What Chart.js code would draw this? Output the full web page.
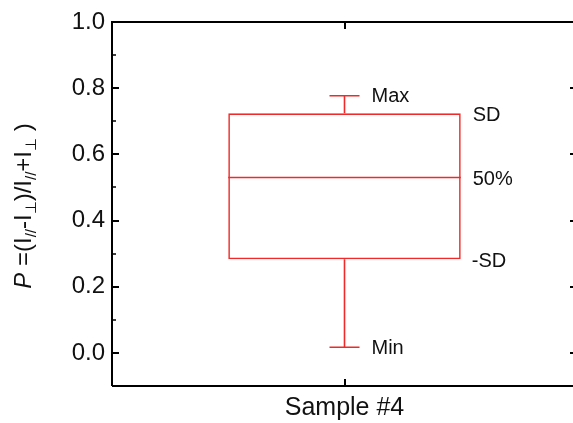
<!DOCTYPE html>
<html>
<head>
<meta charset="utf-8">
<script src="https://cdn.jsdelivr.net/npm/chart.js@4.4.1/dist/chart.umd.min.js"></script>
<style>
  html, body { margin: 0; padding: 0; background: #fff; overflow: hidden; }
  #wrap { width: 573px; height: 423px; overflow: hidden; }
  #box { width: 580px; height: 423px; }
</style>
</head>
<body>
<div id="wrap"><div id="box"><canvas id="c"></canvas></div></div>
<script>
// data
const categories = ["Sample #4"];
const sdLow = [0.283];
const sdHigh = [0.724];
const median = [0.53];
const minVals = [0.017];
const maxVals = [0.777];
const yMin = -0.1, yMax = 1.0, yStep = 0.1;
const yLabelTicks = [0.0, 0.2, 0.4, 0.6, 0.8, 1.0];

const RED = "#ee2a2a";
const FONT = "'Liberation Sans', Arial, sans-serif";

// box outline, whiskers, median and side labels
const boxPlugin = {
  id: "boxExtras",
  afterDatasetsDraw(chart) {
    const ctx = chart.ctx;
    const y = chart.scales.y;
    const bars = chart.getDatasetMeta(0).data;
    ctx.save();
    ctx.strokeStyle = RED;
    ctx.lineWidth = 1.6;
    bars.forEach((bar, i) => {
      const cx = bar.x;
      const half = bar.width / 2;
      const yMed = y.getPixelForValue(median[i]);
      const yTop = y.getPixelForValue(sdHigh[i]);
      const yBot = y.getPixelForValue(sdLow[i]);
      const yMx = y.getPixelForValue(maxVals[i]);
      const yMn = y.getPixelForValue(minVals[i]);
      ctx.beginPath();
      ctx.moveTo(cx - half, yMed); ctx.lineTo(cx + half, yMed);
      ctx.moveTo(cx, yTop); ctx.lineTo(cx, yMx);
      ctx.moveTo(cx - 15, yMx); ctx.lineTo(cx + 15, yMx);
      ctx.moveTo(cx, yBot); ctx.lineTo(cx, yMn);
      ctx.moveTo(cx - 15, yMn); ctx.lineTo(cx + 15, yMn);
      ctx.stroke();

      ctx.fillStyle = "#111";
      ctx.font = "20px " + FONT;
      ctx.textBaseline = "middle";
      ctx.textAlign = "left";
      ctx.fillText("Max", cx + 27, yMx + 1);
      ctx.fillText("Min", cx + 27, yMn + 1);
      ctx.fillText("SD", cx + half + 12, yTop + 2);
      ctx.fillText("50%", cx + half + 12, yMed + 2);
      ctx.fillText("-SD", cx + half + 11, yBot + 2);
    });
    ctx.restore();
  }
};

// frame, inward ticks, rotated y title with subscripts
const framePlugin = {
  id: "frame",
  afterDraw(chart) {
    const ctx = chart.ctx;
    const a = chart.chartArea;
    const y = chart.scales.y;
    const x = chart.scales.x;
    ctx.save();
    ctx.strokeStyle = "#000";
    ctx.lineWidth = 2;
    ctx.beginPath();
    ctx.moveTo(a.left, a.bottom); ctx.lineTo(a.left, a.top);
    ctx.lineTo(a.right, a.top); ctx.lineTo(a.right, a.bottom);
    ctx.lineTo(a.left, a.bottom);
    ctx.stroke();

    for (let v = yMin + yStep; v < yMax + 1e-9; v += yStep) {
      const val = Math.round(v * 10) / 10;
      const py = Math.round(y.getPixelForValue(val));
      const major = yLabelTicks.includes(val);
      const len = major ? 7 : 4;
      ctx.lineWidth = major ? 2 : 1.5;
      ctx.beginPath();
      ctx.moveTo(a.left, py); ctx.lineTo(a.left + len, py);
      ctx.moveTo(a.right, py); ctx.lineTo(a.right - len, py);
      ctx.stroke();
    }
    categories.forEach((c, i) => {
      const px = Math.round(x.getPixelForValue(i));
      ctx.lineWidth = 2;
      ctx.beginPath();
      ctx.moveTo(px, a.bottom); ctx.lineTo(px, a.bottom - 7);
      ctx.moveTo(px, a.top); ctx.lineTo(px, a.top + 7);
      ctx.stroke();
    });

    // y axis title
    const parts = [
      ["P", "italic 24px", 0],
      [" =(I", "24px", 0],
      ["//", "15px", 5],
      ["-I", "24px", 0],
      ["\u22A5", "15px", 5],
      [")/I", "24px", 0],
      ["//", "15px", 5],
      ["+I", "24px", 0],
      ["\u22A5", "15px", 5],
      [" )", "24px", 0]
    ];
    let total = 0;
    parts.forEach(p => { ctx.font = p[1] + " " + FONT; total += ctx.measureText(p[0]).width; });
    ctx.translate(31, (a.top + a.bottom) / 2 + 2);
    ctx.rotate(-Math.PI / 2);
    ctx.fillStyle = "#111";
    ctx.textBaseline = "alphabetic";
    ctx.textAlign = "left";
    let tx = -total / 2;
    parts.forEach(p => {
      ctx.font = p[1] + " " + FONT;
      ctx.fillText(p[0], tx, p[2]);
      tx += ctx.measureText(p[0]).width;
    });
    ctx.restore();
  }
};

new Chart(document.getElementById("c"), {
  type: "bar",
  data: {
    labels: categories,
    datasets: [{
      data: sdLow.map((lo, i) => [lo, sdHigh[i]]),
      backgroundColor: "rgba(0,0,0,0)",
      borderColor: RED,
      borderWidth: 1.6,
      borderSkipped: false,
      barPercentage: 0.5,
      categoryPercentage: 1.0
    }]
  },
  options: {
    responsive: true,
    maintainAspectRatio: false,
    animation: false,
    layout: { padding: { left: 0, top: 22, right: 3, bottom: 0 } },
    plugins: { legend: { display: false }, tooltip: { enabled: false } },
    scales: {
      x: {
        grid: { display: false, drawTicks: false },
        border: { display: false },
        ticks: { color: "#111", padding: 7, font: { family: FONT, size: 25 } },
        afterFit: s => { s.height = 37; }
      },
      y: {
        min: yMin,
        max: yMax,
        grid: { display: false, drawTicks: false },
        border: { display: false },
        ticks: {
          stepSize: 0.2,
          color: "#111",
          padding: 7,
          font: { family: FONT, size: 24 },
          callback: v => yLabelTicks.some(t => Math.abs(t - v) < 1e-6) ? v.toFixed(1) : ""
        },
        afterBuildTicks: s => { s.ticks = yLabelTicks.map(v => ({ value: v })); },
        afterFit: s => { s.width = 112; }
      }
    }
  },
  plugins: [boxPlugin, framePlugin]
});
</script>
</body>
</html>
